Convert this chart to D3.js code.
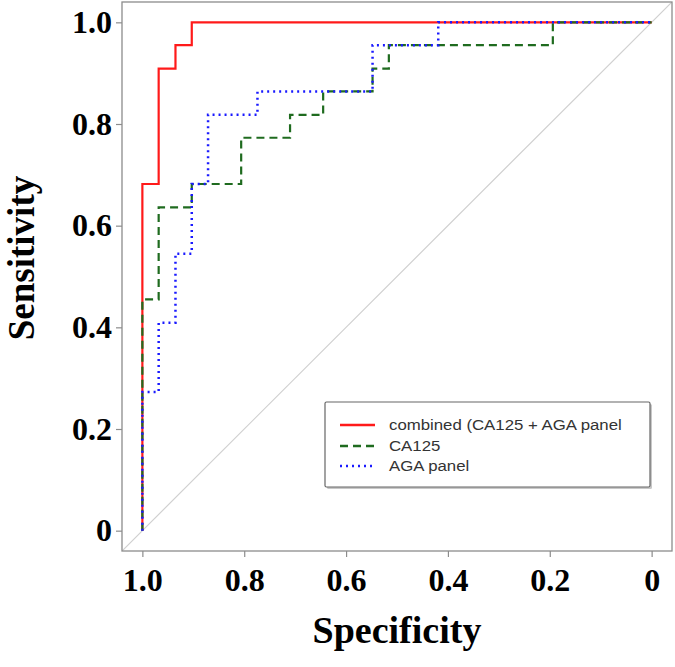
<!DOCTYPE html>
<html><head><meta charset="utf-8">
<script src="https://cdn.jsdelivr.net/npm/d3@7"></script>
<style>body{margin:0;background:#fff}svg{display:block}</style>
</head><body>
<svg id="c" width="675" height="667"></svg>
<script>
// ---- data ----
const xTicks = [1.0, 0.8, 0.6, 0.4, 0.2, 0];
const xTickLabels = ["1.0", "0.8", "0.6", "0.4", "0.2", "0"];
const yTicks = [0, 0.2, 0.4, 0.6, 0.8, 1.0];
const yTickLabels = ["0", "0.2", "0.4", "0.6", "0.8", "1.0"];
const seriesNames = ["combined (CA125 + AGA panel", "CA125", "AGA panel"];

const combinedSpec = [1, 1, 0.968, 0.968, 0.935, 0.935, 0.903, 0.903, 0];
const combinedSens = [0, 0.682, 0.682, 0.909, 0.909, 0.955, 0.955, 1, 1];

const ca125Spec = [1, 1, 0.968, 0.968, 0.903, 0.903, 0.806, 0.806, 0.710, 0.710, 0.645, 0.645, 0.548, 0.548, 0.516, 0.516, 0.194, 0.194, 0];
const ca125Sens = [0, 0.455, 0.455, 0.636, 0.636, 0.682, 0.682, 0.773, 0.773, 0.818, 0.818, 0.864, 0.864, 0.909, 0.909, 0.955, 0.955, 1, 1];

const agaSpec = [1, 1, 0.968, 0.968, 0.935, 0.935, 0.903, 0.903, 0.871, 0.871, 0.774, 0.774, 0.548, 0.548, 0.419, 0.419, 0];
const agaSens = [0, 0.273, 0.273, 0.409, 0.409, 0.545, 0.545, 0.682, 0.682, 0.818, 0.818, 0.864, 0.864, 0.955, 0.955, 1, 1];

// ---- chart ----
const svg = d3.select("#c");
const L = 122, R = 672, T = 2, B = 551;
const x = d3.scaleLinear().domain([1.04, -0.04]).range([L, R]);
const y = d3.scaleLinear().domain([-0.04, 1.04]).range([B, T]);

svg.append("clipPath").attr("id", "clip").append("rect")
  .attr("x", L).attr("y", T).attr("width", R - L).attr("height", B - T);

// diagonal reference line (sens = 1 - spec), extended over the whole plot
svg.append("line").attr("clip-path", "url(#clip)")
  .attr("x1", x(1.04)).attr("y1", y(-0.04)).attr("x2", x(-0.04)).attr("y2", y(1.04))
  .attr("stroke", "#d0d0d0").attr("stroke-width", 1.2);

const styles = [
  { spec: combinedSpec, sens: combinedSens, color: "#ff1a1a", dash: null, w: 2.2 },
  { spec: ca125Spec, sens: ca125Sens, color: "#1f6b1f", dash: "8,5", w: 2.2 },
  { spec: agaSpec, sens: agaSens, color: "#1a1aff", dash: "2,4", w: 2.5 }
];
const line = d3.line().x(d => x(d[0])).y(d => y(d[1]));
styles.forEach(s => {
  const pts = s.spec.map((v, i) => [v, s.sens[i]]);
  svg.append("path").attr("d", line(pts)).attr("fill", "none")
    .attr("stroke", s.color).attr("stroke-width", s.w)
    .attr("stroke-dasharray", s.dash);
});

// box
svg.append("rect").attr("x", L).attr("y", T).attr("width", R - L).attr("height", B - T)
  .attr("fill", "none").attr("stroke", "#8c8c8c").attr("stroke-width", 1.3);

// axes
const xAxis = d3.axisBottom(x).tickValues(xTicks).tickSize(6).tickFormat((d, i) => xTickLabels[i]);
const gx = svg.append("g").attr("transform", `translate(0,${B})`).call(xAxis);
gx.select(".domain").remove();
gx.selectAll(".tick line").attr("stroke", "#8c8c8c").attr("stroke-width", 1.2);
gx.selectAll(".tick text").attr("y", 29).attr("dy", "0.35em")
  .attr("font-family", "'Liberation Serif', 'Times New Roman', serif")
  .attr("font-weight", "bold").attr("font-size", 32).attr("fill", "#000");

const yAxis = d3.axisLeft(y).tickValues(yTicks).tickSize(6).tickFormat((d, i) => yTickLabels[i]);
const gy = svg.append("g").attr("transform", `translate(${L},0)`).call(yAxis);
gy.select(".domain").remove();
gy.selectAll(".tick line").attr("stroke", "#8c8c8c").attr("stroke-width", 1.2);
gy.selectAll(".tick text").attr("x", -10)
  .attr("font-family", "'Liberation Serif', 'Times New Roman', serif")
  .attr("font-weight", "bold").attr("font-size", 32).attr("fill", "#000");

// axis titles
svg.append("text").attr("x", (L + R) / 2).attr("y", 643).attr("text-anchor", "middle")
  .attr("font-family", "'Liberation Serif', 'Times New Roman', serif")
  .attr("font-weight", "bold").attr("font-size", 38).text("Specificity");
svg.append("text").attr("transform", "translate(34,258) rotate(-90)").attr("text-anchor", "middle")
  .attr("font-family", "'Liberation Serif', 'Times New Roman', serif")
  .attr("font-weight", "bold").attr("font-size", 37).text("Sensitivity");

// legend
const lg = svg.append("g");
lg.append("rect").attr("x", 327).attr("y", 404).attr("width", 325).attr("height", 85)
  .attr("fill", "#c8c8c8").attr("rx", 1.5);
lg.append("rect").attr("x", 325).attr("y", 402).attr("width", 325).attr("height", 85)
  .attr("fill", "#fff").attr("stroke", "#666").attr("stroke-width", 1.2).attr("rx", 1.5);
const legY = [425, 446, 466];
styles.forEach((s, i) => {
  lg.append("line").attr("x1", 340).attr("x2", 375).attr("y1", legY[i]).attr("y2", legY[i])
    .attr("stroke", s.color).attr("stroke-width", 2.6).attr("stroke-dasharray", s.dash);
  lg.append("text").attr("transform", `translate(389,${legY[i]}) scale(1.12,1)`).attr("dy", "0.35em")
    .attr("font-family", "'Liberation Sans', Arial, sans-serif").attr("font-size", 15)
    .attr("fill", "#333").text(seriesNames[i]);
});
</script>
</body></html>
